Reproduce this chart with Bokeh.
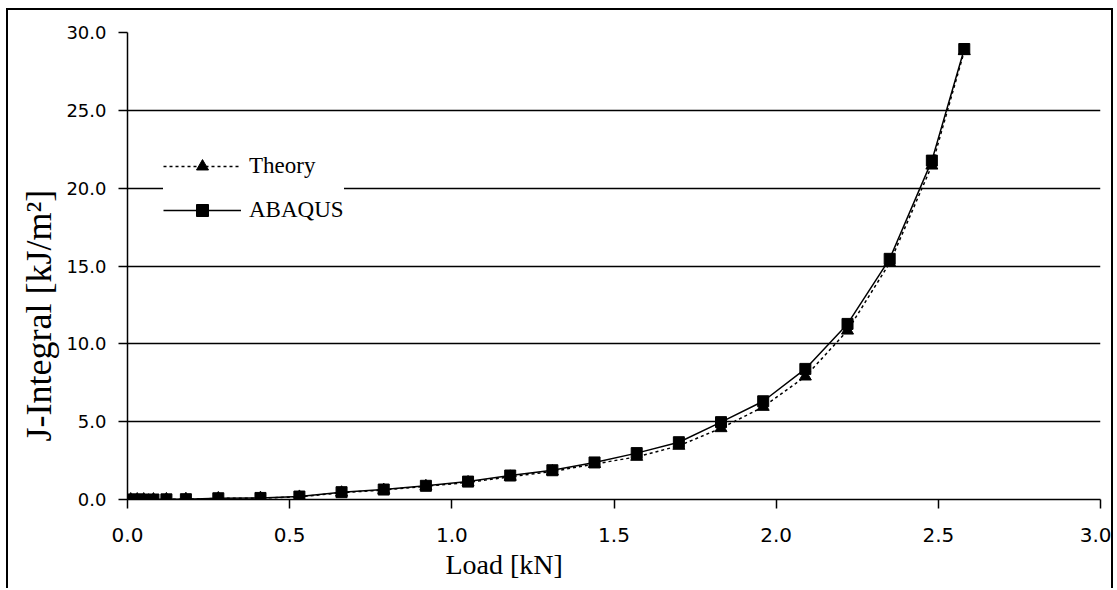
from bokeh.plotting import figure
from bokeh.models import (Range1d, Legend, LegendItem, Title,
                          FixedTicker, NumeralTickFormatter)
from bokeh.embed import file_html
from bokeh.resources import INLINE

# ---- data ----
load_kn = [0.01, 0.03, 0.05, 0.08, 0.12, 0.18, 0.28, 0.41, 0.53, 0.66, 0.79,
           0.92, 1.05, 1.18, 1.31, 1.44, 1.57, 1.70, 1.83, 1.96, 2.09, 2.22,
           2.35, 2.48, 2.58]
j_abaqus = [0.0, 0.0, 0.0, 0.0, 0.01, 0.02, 0.08, 0.10, 0.19, 0.47, 0.64,
            0.88, 1.15, 1.54, 1.88, 2.38, 2.98, 3.68, 4.97, 6.31, 8.39, 11.28,
            15.46, 21.77, 28.94]
j_theory = [0.0, 0.0, 0.0, 0.0, 0.01, 0.02, 0.07, 0.09, 0.17, 0.44, 0.61,
            0.85, 1.10, 1.46, 1.80, 2.28, 2.74, 3.45, 4.58, 5.95, 7.90, 10.85,
            15.20, 21.45, 28.80]
x_ticks = [0.0, 0.5, 1.0, 1.5, 2.0, 2.5, 3.0]
y_ticks = [0, 5, 10, 15, 20, 25, 30]
series_names = ["Theory", "ABAQUS"]
x_title = "Load [kN]"
y_title = "J-Integral [kJ/m\u00b2]"

SERIF = "Liberation Serif"
SANS = "DejaVu Sans"

p = figure(width=1107, height=580, output_backend="svg", toolbar_location=None,
           x_range=Range1d(0, 3), y_range=Range1d(0, 30),
           min_border_left=119, min_border_right=15,
           min_border_top=22, min_border_bottom=91)
p.outline_line_color = None
p.background_fill_color = "white"
p.border_fill_color = "white"
# outer chart border (open at the bottom, as in the cropped reference)
p.styles = {"margin-left": "6px", "margin-top": "8px",
            "border-left": "2px solid black", "border-top": "2px solid black",
            "border-right": "2px solid black"}

# grid
p.xgrid.visible = False
p.ygrid.ticker = FixedTicker(ticks=y_ticks)
p.ygrid.grid_line_color = "black"
p.ygrid.grid_line_width = 1.5

# axes
for ax in (p.xaxis[0], p.yaxis[0]):
    ax.axis_line_color = "black"
    ax.axis_line_width = 1.5
    ax.major_tick_line_color = "black"
    ax.major_tick_line_width = 1.5
    ax.major_tick_out = 9
    ax.major_tick_in = 0
    ax.minor_tick_line_color = None
    ax.major_label_text_color = "black"
    ax.major_label_text_font = SANS
    ax.formatter = NumeralTickFormatter(format="0.0")

p.xaxis.ticker = FixedTicker(ticks=x_ticks)
p.yaxis.ticker = FixedTicker(ticks=y_ticks)
p.xaxis.major_label_text_font_size = "20px"
p.yaxis.major_label_text_font_size = "18px"
p.xaxis.major_label_standoff = 19
p.yaxis.major_label_standoff = 12

# series
lt = p.line(load_kn, j_theory, line_color="black", line_width=1.5, line_dash="3 3")
st = p.scatter(load_kn, j_theory, marker="triangle", size=12, fill_color="black",
               line_color="black")
la = p.line(load_kn, j_abaqus, line_color="black", line_width=1.5)
sa = p.scatter(load_kn, j_abaqus, marker="square", size=11, fill_color="black",
               line_color="black")

legend = Legend(items=[LegendItem(label=series_names[0], renderers=[lt, st]),
                       LegendItem(label=series_names[1], renderers=[la, sa])],
                location=(36, 274), glyph_width=78, glyph_height=30,
                label_standoff=8, spacing=14, padding=12,
                label_text_font=SERIF, label_text_font_size="23px",
                label_text_color="black",
                border_line_color=None, background_fill_color="white",
                background_fill_alpha=1.0)
p.add_layout(legend)

# axis titles, positioned like the reference (not centred on the frame)
p.add_layout(Title(text=x_title, align="left", offset=318, standoff=5,
                   text_font=SERIF, text_font_size="28px",
                   text_font_style="normal", text_color="black"), "below")
p.add_layout(Title(text=y_title, align="left", offset=58, standoff=10,
                   text_font=SERIF, text_font_size="36px",
                   text_font_style="normal", text_color="black"), "left")

open("out.html", "w").write(file_html(p, INLINE))
